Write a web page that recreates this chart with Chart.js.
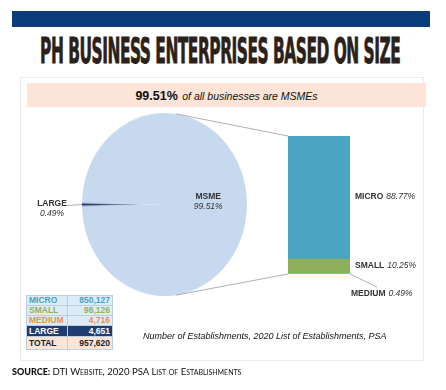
<!DOCTYPE html>
<html>
<head>
<meta charset="utf-8">
<script src="https://cdn.jsdelivr.net/npm/chart.js@4.4.1/dist/chart.umd.min.js"></script>
<style>
  body { margin: 0; width: 446px; height: 390px; background: #fff; position: relative; overflow: hidden; font-family: "Liberation Sans", Arial, sans-serif; }
  #topBar { position: absolute; left: 12px; top: 11px; width: 418px; height: 16px; background: #0c3c7a; }
  #titleText { position: absolute; top: 31px; white-space: nowrap; font-family: "DejaVu Sans Condensed", "Liberation Sans Narrow", sans-serif; font-weight: bold; font-size: 35px; line-height: 40px; color: #2b2119; -webkit-text-stroke: 0.8px #2b2119; letter-spacing: -1px; transform-origin: 50% 50%; }
  #panel { position: absolute; left: 20px; top: 77px; width: 404px; height: 284px; border: 1px solid #ececec; box-sizing: border-box; }
  #banner { position: absolute; left: 27px; top: 83px; width: 399px; height: 24px; background: #fce4d6; text-align: center; line-height: 24px; color: #111; }
  #banner b { font-size: 12.5px; }
  #banner i { font-size: 10.5px; }
  #pieCanvas { position: absolute; left: 77px; top: 117px; transform: scaleY(1.109); transform-origin: 50% 50%; }
  #overlayCanvas { position: absolute; left: 20px; top: 77px; }
  #counts { position: absolute; left: 26px; top: 295px; border-collapse: collapse; font-size: 8.5px; font-weight: bold; }
  #counts td { border: 1px solid #bccfe0; padding: 0 2px; height: 9px; line-height: 9px; }
  #counts td.num { text-align: right; width: 40px; }
  #counts td.lbl { width: 36px; }
  #caption { position: absolute; left: 143px; top: 331px; font-style: italic; font-size: 9px; color: #111; white-space: nowrap; }
  #source { position: absolute; left: 12px; top: 366px; font-family: Lato, sans-serif; font-size: 9px; color: #111; white-space: nowrap; }
  #source b { font-weight: 900; }
  #source span { font-variant: small-caps; font-size: 9.6px; }
</style>
</head>
<body>
<div id="topBar"></div>
<span id="titleText">PH BUSINESS ENTERPRISES BASED ON SIZE</span>
<div id="panel"></div>
<div id="banner"></div>
<canvas id="pieCanvas" width="175" height="175"></canvas>
<canvas id="overlayCanvas" width="404" height="284"></canvas>
<table id="counts"></table>
<div id="caption">Number of Establishments, 2020 List of Establishments, PSA</div>
<div id="source"><b>SOURCE:</b> <span>DTI Website, 2020 PSA List of Establishments</span></div>

<script>
// ========== DATA ==========
const categories = ["MICRO", "SMALL", "MEDIUM", "LARGE"];
const establishments = [850127, 98126, 4716, 4651];
const msmeCategories = ["MICRO", "SMALL", "MEDIUM"];
const pieLabels = ["LARGE", "MSME"];

// ========== COLOURS ==========
const barColors = { MICRO: "#4ba5c1", SMALL: "#8db15b", MEDIUM: "#e8a23d" };
const tableText = { MICRO: "#4ba3c3", SMALL: "#93b35a", MEDIUM: "#e8914f", LARGE: "#ffffff", TOTAL: "#222222" };
const tableBg = { MICRO: "#dcebf6", SMALL: "#dcebf6", MEDIUM: "#dcebf6", LARGE: "#1f3c70", TOTAL: "#fce4d6" };
const MSME_COLOR = "#c6d9ef";
const LARGE_COLOR = "#1f3a6e";
const LABEL_COLOR = "#333333";
const LINE_COLOR = "#b0b0b0";

// ========== DERIVED VALUES ==========
const total = establishments.reduce((a, b) => a + b, 0);
const valueOf = (name) => establishments[categories.indexOf(name)];
const msmeTotal = msmeCategories.reduce((a, name) => a + valueOf(name), 0);
const pct = (v) => (v / total * 100).toFixed(2) + "%";
const fmt = (v) => v.toLocaleString("en-US");

// ========== HTML TEXT ==========
document.getElementById("banner").innerHTML =
  `<b>${pct(msmeTotal)}</b> <i>of all businesses are MSMEs</i>`;

// squeeze the headline into its slot (x 40..400)
const titleEl = document.getElementById("titleText");
const titleW = titleEl.offsetWidth;
titleEl.style.left = `${220 - titleW / 2}px`;
titleEl.style.transform = `scaleX(${360 / titleW})`;

const table = document.getElementById("counts");
[...categories, "TOTAL"].forEach((name) => {
  const row = document.createElement("tr");
  const value = name === "TOTAL" ? total : valueOf(name);
  row.style.background = tableBg[name];
  row.style.color = tableText[name];
  const a = document.createElement("td");
  a.className = "lbl";
  a.textContent = name;
  const b = document.createElement("td");
  b.className = "num";
  b.textContent = fmt(value);
  if (name === "LARGE") { a.style.height = b.style.height = "10px"; }
  if (name === "TOTAL") { a.style.height = b.style.height = "12px"; b.style.color = "#222"; }
  row.appendChild(a);
  row.appendChild(b);
  table.appendChild(row);
});

// ========== PIE ==========
const largeShare = valueOf("LARGE") / total * 360;
const pieChart = new Chart(document.getElementById("pieCanvas"), {
  type: "pie",
  data: {
    labels: pieLabels,
    datasets: [{
      data: [valueOf("LARGE"), msmeTotal],
      backgroundColor: (ctx) => {
        if (ctx.dataIndex === 1) return MSME_COLOR;
        const area = ctx.chart.chartArea;
        if (!area) return LARGE_COLOR;
        const cx = (area.left + area.right) / 2;
        const cy = (area.top + area.bottom) / 2;
        const r = Math.min(area.right - area.left, area.bottom - area.top) / 2;
        const g = ctx.chart.ctx.createRadialGradient(cx, cy, 0, cx, cy, r);
        g.addColorStop(0, "rgba(31,58,110,0)");
        g.addColorStop(0.45, "rgba(31,58,110,0.45)");
        g.addColorStop(0.8, "rgba(31,58,110,0.95)");
        g.addColorStop(1, LARGE_COLOR);
        return g;
      },
      borderWidth: 0,
    }],
  },
  options: {
    responsive: false,
    animation: false,
    rotation: 270 - largeShare / 2,
    layout: { padding: 5 },
    plugins: { legend: { display: false }, tooltip: { enabled: false } },
  },
});

// ========== LABEL HELPERS ==========
const drawPair = (ctx, name, value, x, y) => {
  ctx.textAlign = "left";
  ctx.textBaseline = "middle";
  ctx.fillStyle = LABEL_COLOR;
  ctx.font = "bold 8.5px 'Liberation Sans', Arial, sans-serif";
  const w1 = ctx.measureText(name).width;
  ctx.fillText(name, x, y);
  ctx.font = "italic 8.5px 'Liberation Sans', Arial, sans-serif";
  ctx.fillText(value, x + w1 + 3, y);
};

const drawStack = (ctx, name, value, x, y) => {
  ctx.textAlign = "center";
  ctx.textBaseline = "middle";
  ctx.fillStyle = LABEL_COLOR;
  ctx.font = "bold 8.5px 'Liberation Sans', Arial, sans-serif";
  ctx.fillText(name, x, y - 5);
  ctx.font = "italic 8.5px 'Liberation Sans', Arial, sans-serif";
  ctx.fillText(value, x, y + 5);
};

// pie geometry in overlay canvas coordinates
const pieGeometry = (overlay) => {
  const pieEl = pieChart.canvas;
  const rect = pieEl.getBoundingClientRect();
  const oRect = overlay.getBoundingClientRect();
  const sx = rect.width / pieEl.width;
  const sy = rect.height / pieEl.height;
  const arc = pieChart.getDatasetMeta(0).data[0];
  return {
    cx: rect.left - oRect.left + arc.x * sx,
    cy: rect.top - oRect.top + arc.y * sy,
    rx: arc.outerRadius * sx,
    ry: arc.outerRadius * sy,
  };
};

const overlayPlugin = {
  id: "overlay",
  afterDatasetsDraw(chart) {
    const ctx = chart.ctx;
    const g = pieGeometry(chart.canvas);
    const find = (name) => {
      const i = chart.data.datasets.findIndex((d) => d.label === name);
      return chart.getDatasetMeta(i).data[0];
    };
    const top = find("MICRO");
    const bottom = find("MEDIUM");
    const left = top.x - top.width / 2;
    const right = top.x + top.width / 2;
    const tangent = 82 * Math.PI / 180;

    ctx.save();
    ctx.strokeStyle = LINE_COLOR;
    ctx.lineWidth = 1;
    ctx.beginPath();
    ctx.moveTo(g.cx + g.rx * Math.cos(tangent), g.cy - g.ry * Math.sin(tangent));
    ctx.lineTo(left, top.y);
    ctx.moveTo(g.cx + g.rx * Math.cos(tangent), g.cy + g.ry * Math.sin(tangent));
    ctx.lineTo(left, bottom.base);
    // medium leader
    ctx.moveTo(right, bottom.base);
    ctx.lineTo(right + 27, bottom.base + 13);
    // large leader
    ctx.moveTo(g.cx - g.rx, g.cy);
    ctx.lineTo(g.cx - g.rx - 15, g.cy + 1);
    ctx.stroke();

    // bar labels
    ["MICRO", "SMALL"].forEach((name) => {
      const el = find(name);
      drawPair(ctx, name, pct(valueOf(name)), right + 5, (el.y + el.base) / 2 - 1);
    });
    drawPair(ctx, "MEDIUM", pct(valueOf("MEDIUM")), right + 1, bottom.base + 20);

    // pie labels
    drawStack(ctx, pieLabels[1], pct(msmeTotal), g.cx + g.rx * 0.53, g.cy - 3);
    drawStack(ctx, pieLabels[0], pct(valueOf("LARGE")), g.cx - g.rx - 30, g.cy + 4);
    ctx.restore();
  },
};

// ========== STACKED BAR ==========
new Chart(document.getElementById("overlayCanvas"), {
  type: "bar",
  data: {
    labels: ["MSME"],
    datasets: msmeCategories.slice().reverse().map((name) => ({
      label: name,
      data: [valueOf(name)],
      backgroundColor: barColors[name],
      borderWidth: 0,
      barPercentage: 1,
      categoryPercentage: 1,
    })),
  },
  options: {
    responsive: false,
    animation: false,
    layout: { padding: { left: 268, right: 74, top: 59, bottom: 87 } },
    scales: {
      x: { display: false, stacked: true },
      y: { display: false, stacked: true, min: 0, max: msmeTotal },
    },
    plugins: { legend: { display: false }, tooltip: { enabled: false } },
  },
  plugins: [overlayPlugin],
});
</script>
</body>
</html>
